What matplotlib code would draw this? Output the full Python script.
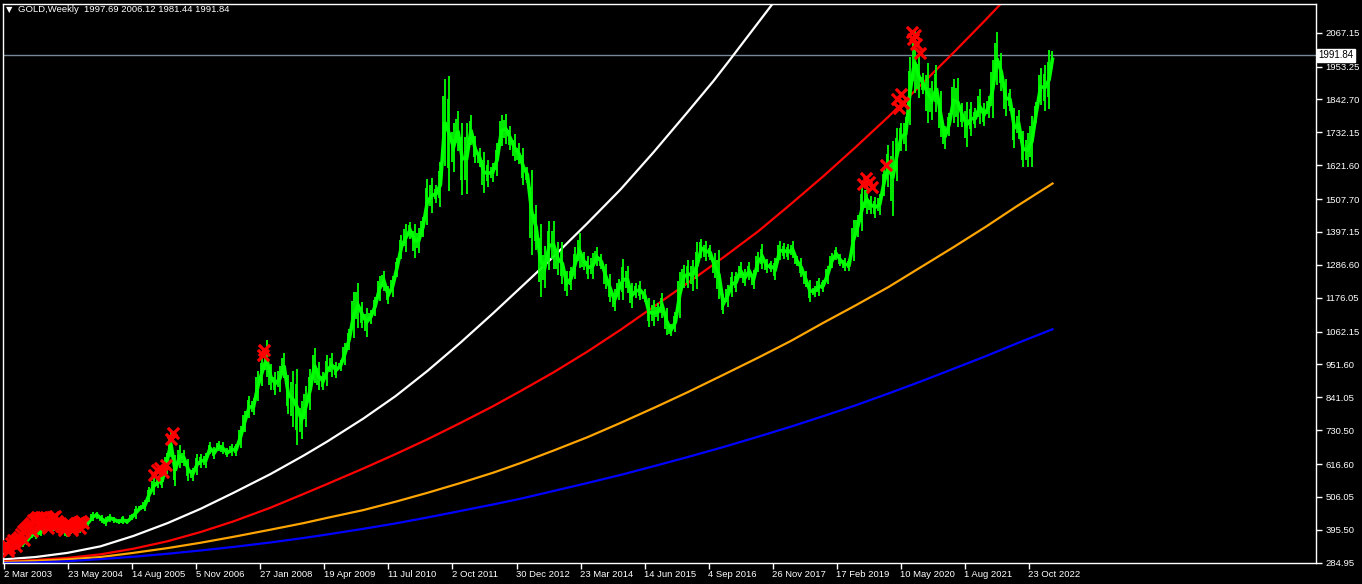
import numpy as np
import matplotlib
matplotlib.use("Agg")
import matplotlib.pyplot as plt
import matplotlib.transforms as mtransforms

plt.rcParams['font.family'] = ['Liberation Sans', 'DejaVu Sans']

# monthly gold highs / lows, first month = Mar 2003, last = Apr 2023 (partial)
high = [
    353, 341, 372, 372, 358, 376, 390, 392, 400, 417,                      # 2003
    427, 420, 432, 431, 396, 398, 411, 417, 419, 431, 456, 457,            # 2004
    445, 437, 448, 439, 432, 443, 432, 448, 474, 479, 497, 539,            # 2005
    571, 574, 584, 654, 730, 647, 680, 665, 635, 605, 650, 650,            # 2006
    655, 690, 673, 693, 690, 669, 685, 685, 745, 795, 845, 840,            # 2007
    930, 975, 1033, 953, 925, 945, 990, 915, 930, 935, 830, 880,           # 2008
    935, 1007, 960, 925, 985, 990, 960, 965, 1025, 1072, 1195, 1227,       # 2009
    1162, 1142, 1135, 1180, 1249, 1265, 1215, 1250, 1310, 1388, 1425, 1432,  # 2010
    1425, 1412, 1448, 1575, 1577, 1555, 1632, 1912, 1920, 1765, 1805, 1765,  # 2011
    1764, 1790, 1720, 1680, 1667, 1640, 1630, 1695, 1790, 1795, 1755, 1725,  # 2012
    1695, 1680, 1617, 1606, 1488, 1424, 1349, 1434, 1434, 1362, 1362, 1267,  # 2013
    1280, 1345, 1392, 1331, 1315, 1325, 1345, 1322, 1290, 1255, 1205, 1239,  # 2014
    1307, 1283, 1224, 1224, 1232, 1205, 1175, 1170, 1157, 1191, 1143, 1088,  # 2015
    1127, 1263, 1287, 1303, 1304, 1362, 1375, 1367, 1352, 1326, 1337, 1188,  # 2016
    1220, 1264, 1261, 1295, 1271, 1296, 1270, 1331, 1357, 1306, 1299, 1309,  # 2017
    1366, 1361, 1356, 1366, 1317, 1309, 1266, 1237, 1214, 1243, 1237, 1284,  # 2018
    1326, 1346, 1324, 1310, 1306, 1439, 1453, 1555, 1557, 1518, 1516, 1525,  # 2019
    1611, 1689, 1704, 1748, 1765, 1785, 1985, 2075, 1992, 1933, 1965, 1906,  # 2020
    1959, 1871, 1755, 1798, 1913, 1916, 1832, 1833, 1834, 1814, 1877, 1830,  # 2021
    1853, 1974, 2070, 1998, 1910, 1879, 1814, 1808, 1735, 1730, 1786, 1833,  # 2022
    1949, 1960, 2009, 2006,                                                # 2023
]
low = [
    320, 318, 335, 342, 339, 345, 369, 366, 374, 396,
    399, 390, 392, 386, 371, 383, 385, 386, 400, 409, 424, 433,
    419, 410, 423, 420, 414, 414, 415, 427, 433, 461, 459, 490,
    513, 537, 537, 582, 640, 543, 605, 610, 560, 560, 580, 605,
    604, 650, 635, 660, 649, 640, 645, 645, 670, 725, 772, 780,
    830, 880, 910, 865, 850, 860, 905, 786, 740, 681, 700, 740,
    800, 890, 865, 865, 880, 910, 905, 930, 950, 1000, 1040, 1075,
    1075, 1045, 1088, 1115, 1165, 1200, 1155, 1180, 1245, 1305, 1330, 1375,
    1310, 1325, 1380, 1420, 1462, 1495, 1480, 1620, 1535, 1600, 1670, 1522,
    1525, 1690, 1630, 1615, 1527, 1550, 1565, 1585, 1685, 1692, 1672, 1635,
    1625, 1555, 1562, 1321, 1338, 1180, 1208, 1270, 1274, 1251, 1221, 1181,
    1202, 1240, 1277, 1268, 1240, 1240, 1281, 1273, 1206, 1160, 1131, 1170,
    1167, 1191, 1142, 1175, 1170, 1162, 1077, 1080, 1098, 1107, 1052, 1046,
    1061, 1107, 1208, 1208, 1200, 1207, 1310, 1300, 1303, 1241, 1171, 1122,
    1146, 1180, 1195, 1241, 1214, 1236, 1204, 1262, 1271, 1260, 1264, 1236,
    1302, 1307, 1303, 1310, 1282, 1246, 1211, 1160, 1180, 1182, 1196, 1221,
    1276, 1302, 1281, 1266, 1267, 1301, 1380, 1400, 1459, 1458, 1445, 1454,
    1517, 1548, 1451, 1567, 1671, 1670, 1758, 1863, 1849, 1860, 1764, 1775,
    1802, 1717, 1676, 1720, 1765, 1750, 1750, 1682, 1721, 1746, 1761, 1753,
    1780, 1781, 1890, 1872, 1786, 1805, 1681, 1709, 1615, 1617, 1616, 1765,
    1823, 1805, 1810, 1950,
]

# curve readings (week number since 2 Mar 2003, price)
white_weeks = [0, 32, 64, 97, 130, 164, 197, 230, 267, 300, 324, 360, 392, 424, 457, 490,
               527, 550, 584, 617, 650, 684, 710, 725, 769, 790]
white_vals = [296, 304, 318, 340, 375, 418, 466, 520, 583, 645, 693, 770, 845, 930, 1025,
              1125, 1241, 1314, 1427, 1540, 1665, 1800, 1905, 1970, 2164, 2260]
curve_weeks = [0, 32, 64, 97, 130, 164, 197, 230, 267, 300, 324, 360, 392, 424, 457, 490,
               517, 550, 584, 617, 652, 684, 720, 755, 787, 820, 852, 885, 917, 950, 982,
               1013, 1049]
red_vals = [290, 294, 301, 313, 332, 357, 388, 424, 470, 516, 550, 602, 650, 700, 755, 812,
            862, 925, 995, 1068, 1150, 1225, 1312, 1400, 1490, 1585, 1682, 1785, 1890, 2000,
            2110, 2220, 2350]
orange_vals = [287, 291, 296, 304, 318, 334, 352, 372, 396, 418, 436, 462, 490, 520, 553,
               588, 620, 662, 707, 755, 808, 858, 917, 975, 1030, 1092, 1150, 1212, 1278,
               1346, 1414, 1483, 1560]
blue_vals = [284, 286, 290, 297, 305, 315, 326, 338, 353, 368, 380, 399, 417, 437, 459, 481,
             500, 526, 553, 580, 611, 640, 674, 709, 742, 778, 814, 854, 894, 937, 979,
             1022, 1070]

# red cross signals (week, price)
sig_weeks = [1, 3, 5, 7, 9, 11, 13, 15, 17, 19, 21, 23, 25, 27, 29, 31, 33, 35, 37, 39,
             41, 43, 45, 47, 49, 51, 53, 55, 57, 59, 61, 63, 65, 67, 69, 71, 73, 75, 77, 79,
             4, 12, 20, 28, 36, 44, 52, 60, 68, 76,
             150, 153, 156, 159, 162, 167, 169, 259, 260, 859, 862, 865, 868, 882,
             893, 895, 897, 899, 908, 909, 911, 912, 916]
sig_vals = [345, 340, 335, 350, 362, 358, 365, 372, 380, 392, 398, 405, 412, 420, 428, 432,
            438, 435, 440, 437, 430, 425, 420, 432, 440, 442, 425, 415, 410, 405, 412, 420,
            418, 410, 405, 412, 418, 422, 425, 420,
            325, 340, 360, 390, 405, 400, 415, 395, 395, 400,
            580, 595, 605, 590, 615, 700, 720, 985, 1000, 1560, 1580, 1565, 1550, 1622,
            1845, 1815, 1860, 1830, 2070, 2045, 2060, 2030, 1998]

yticks = [2067.15, 1953.25, 1842.70, 1732.15, 1621.60, 1507.70, 1397.15, 1286.60, 1176.05,
          1062.15, 951.60, 841.05, 730.50, 616.60, 506.05, 395.50, 284.95]
xtick_labels = ['2 Mar 2003', '23 May 2004', '14 Aug 2005', '5 Nov 2006', '27 Jan 2008',
                '19 Apr 2009', '11 Jul 2010', '2 Oct 2011', '30 Dec 2012', '23 Mar 2014',
                '14 Jun 2015', '4 Sep 2016', '26 Nov 2017', '17 Feb 2019', '10 May 2020',
                '1 Aug 2021', '23 Oct 2022']
last_price = 1991.84
title = 'GOLD,Weekly  1997.69 2006.12 1981.44 1991.84'

start = np.datetime64('2003-03-02')
months = np.datetime64('2003-03') + np.arange(len(high))
m_start = (months.astype('datetime64[D]') - start).astype(float) / 7
m_start[0] = 0
m_end = np.append(m_start[1:], 1050)
m_mid = (m_start + m_end) / 2
tick_dates = np.array(['2003-03-02', '2004-05-23', '2005-08-14', '2006-11-05', '2008-01-27',
                       '2009-04-19', '2010-07-11', '2011-10-02', '2012-12-30', '2014-03-23',
                       '2015-06-14', '2016-09-04', '2017-11-26', '2019-02-17', '2020-05-10',
                       '2021-08-01', '2022-10-23'], dtype='datetime64[D]')
xticks = (tick_dates - start).astype(float) / 7

fig = plt.figure(figsize=(13.62, 5.84), dpi=100, facecolor='black')
ax = fig.add_axes([3 / 1362, 21.3 / 584, 1313 / 1362, 558.7 / 584], facecolor='black')

# price: monthly range spikes plus a path through the mid of each month
hi = np.array(high, dtype=float)
lo = np.array(low, dtype=float)
mid = (hi + lo) / 2
ax.vlines(m_mid, lo, hi, color='#00ff00', lw=1.3, zorder=3)
ax.vlines(m_start + 0.6, mid - (hi - lo) * 0.3, mid + (hi - lo) * 0.3, color='#00ff00',
          lw=1.3, zorder=3)
ax.plot(m_mid, mid, color='#00ff00', lw=2.6, zorder=3, solid_joinstyle='miter')

ax.plot(white_weeks, white_vals, color='white', lw=1.6, zorder=2)
ax.plot(curve_weeks, red_vals, color='#ff0000', lw=1.6, zorder=2)
ax.plot(curve_weeks, orange_vals, color='#ffa500', lw=1.6, zorder=2)
ax.plot(curve_weeks, blue_vals, color='#0000ff', lw=1.6, zorder=2)

ax.scatter(sig_weeks, sig_vals, marker='x', s=65, color='#ff0000', linewidths=2.3, zorder=4)

ax.axhline(last_price, color='#778899', lw=1, zorder=1)

ax.set_xlim(-0.5, 1312.5)
ax.set_ylim(284.95, 2163.7)

for s in ax.spines.values():
    s.set_color('white')
    s.set_linewidth(1)

ax.yaxis.tick_right()
ax.set_yticks(yticks)
ax.set_yticklabels(['%.2f' % v for v in yticks])
ax.set_xticks(xticks)
ax.set_xticklabels(xtick_labels, ha='left')
ax.tick_params(axis='both', colors='white', labelcolor='white', labelsize=6.8, length=4, width=1)
ax.tick_params(axis='x', pad=1)
ax.tick_params(axis='y', pad=3)

trans = mtransforms.blended_transform_factory(ax.transAxes, ax.transData)
ax.text(1.0018, last_price, '%.2f' % last_price, transform=trans, fontsize=7, color='black',
        va='center', ha='left',
        bbox=dict(boxstyle='square,pad=0.15', facecolor='white', edgecolor='white'))

fig.text(6 / 1362, 1 - 10 / 584, '\u25bc', color='white', fontsize=6, va='center',
         family='DejaVu Sans')
fig.text(18 / 1362, 1 - 10 / 584, title, color='white', fontsize=6.8, va='center')

fig.savefig('out.png', dpi=100, facecolor='black')
